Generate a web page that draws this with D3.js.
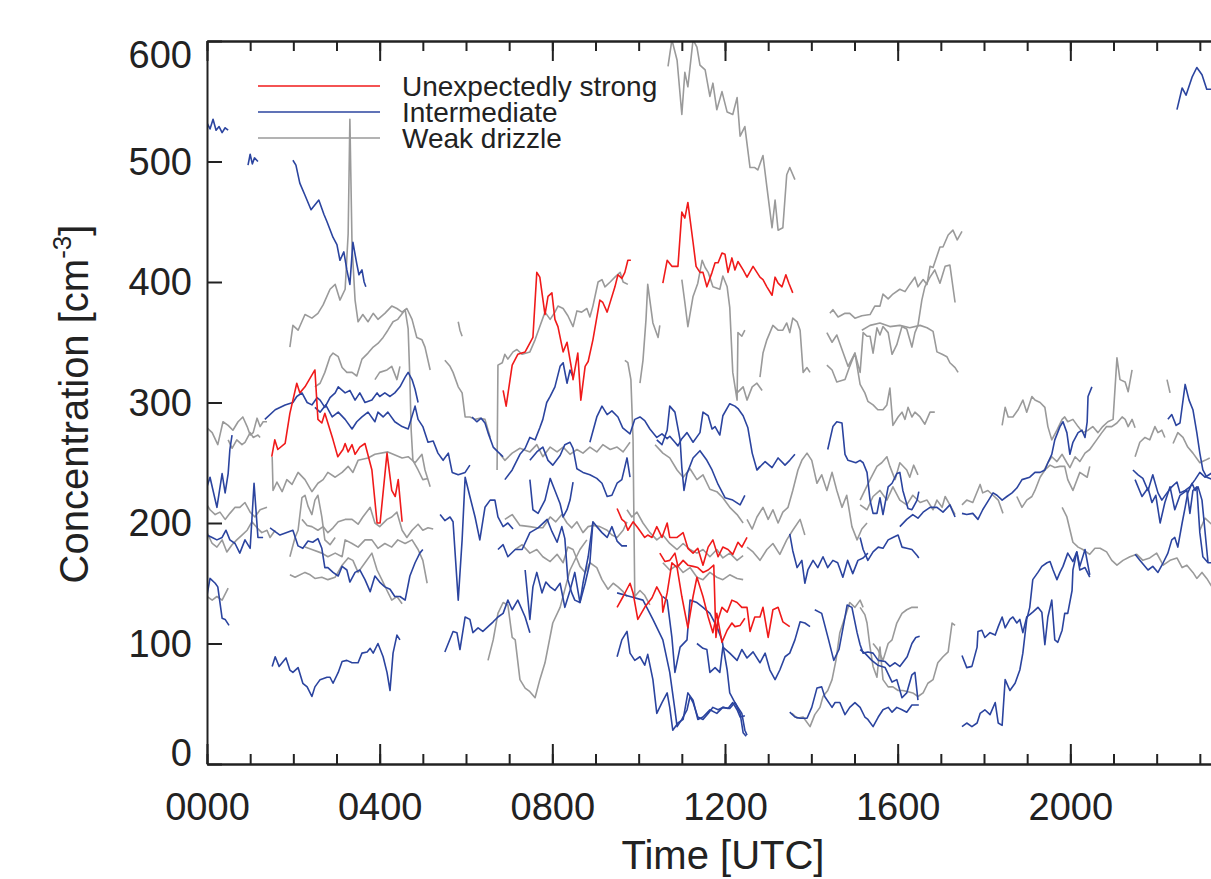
<!DOCTYPE html>
<html>
<head>
<meta charset="utf-8">
<script src="https://cdn.jsdelivr.net/npm/d3@7"></script>
<style>
  body { margin: 0; background: #fff; }
  svg { display: block; }
  text { font-family: "Liberation Sans", Arial, Helvetica, sans-serif; fill: #222; }
</style>
</head>
<body>
<div id="chart"></div>
<script>
// ---- data (hours UTC, concentration cm^-3) ----
var legendLabels = ["Unexpectedly strong", "Intermediate", "Weak drizzle"];
var xTickLabels = ["0000", "0400", "0800", "1200", "1600", "2000"];
var xMajorTicks = [0, 4, 8, 12, 16, 20, 24];
var yTickValues = [0, 100, 200, 300, 400, 500, 600];

var strongSegs = [
  {h: [1.50,1.57,1.64,1.81,1.92,2.08,2.15,2.27,2.50,2.57,2.66,2.73,2.92,3.03,3.15,3.20,3.27,3.36,3.43,3.54,3.66,3.82,3.94,4.01,4.17,4.28,4.36,4.43,4.52],
   v: [255,269,261,266,291,316,308,313,327,286,283,291,269,255,261,266,259,265,257,263,266,244,200,200,258,227,222,236,201]},
  {h: [6.86,6.93,7.07,7.20,7.37,7.55,7.64,7.71,7.83,7.90,7.99,8.06,8.13,8.25,8.34,8.46,8.48,8.59,8.66,8.76,8.83,8.94,9.10,9.17,9.27,9.45,9.52,9.61,9.68,9.75,9.82],
   v: [310,297,331,340,342,354,408,404,373,388,391,369,363,342,350,325,319,341,302,330,334,352,385,383,375,396,406,403,408,418,418]},
  {h: [10.56,10.66,10.77,10.91,11.00,11.07,11.14,11.26,11.33,11.42,11.49,11.58,11.70,11.77,11.84,11.93,12.00,12.07,12.16,12.23,12.30,12.42,12.51,12.65,12.81,12.88,12.97,13.09,13.16,13.23,13.32,13.41,13.48,13.57],
   v: [399,418,413,413,458,453,466,433,413,408,408,396,408,416,416,424,423,408,420,410,417,410,404,413,404,402,396,389,404,399,396,406,399,391]},
  {h: [9.50,9.61,9.68,9.75,9.87,9.98,10.14,10.21,10.31,10.42,10.54,10.66,10.72,10.89,11.03,11.14,11.26,11.37,11.49,11.61,11.72,11.84,11.95,12.07,12.18,12.30,12.39,12.51],
   v: [212,203,201,194,201,196,188,190,188,197,188,200,188,188,192,179,175,179,165,180,186,172,180,178,174,184,180,188]},
  {h: [10.49,10.61,10.72,10.84,10.91,11.03,11.14,11.26,11.37,11.49,11.61,11.74,11.79,11.84,11.93,12.05,12.16,12.28,12.39,12.51,12.58,12.69,12.81,12.88,13.00,13.11,13.23,13.34,13.50],
   v: [175,168,169,175,164,169,165,164,163,159,161,165,105,120,130,126,136,134,130,130,110,122,122,130,105,128,130,118,114]},
  {h: [9.50,9.64,9.80,9.87,9.98,10.14,10.31,10.42,10.54,10.56,10.66,10.77,10.89,11.00,11.14,11.26,11.35,11.49,11.61,11.72,11.81,11.93,12.05,12.16,12.23,12.35,12.46],
   v: [130,139,150,142,120,130,138,147,139,126,142,167,163,139,113,139,155,139,122,109,125,101,111,117,114,115,121]}
];

var interSegs = [
  {h: [0,0.07,0.14,0.21,0.28,0.35,0.42,0.49], v: [532,527,535,526,529,524,528,526]},
  {h: [0.95,1.0,1.05,1.1,1.18], v: [497,506,498,503,500]},
  {h: [1.99,2.06,2.15,2.27,2.41,2.59,2.71,2.78,2.92,3.01,3.08,3.17,3.24,3.31,3.38,3.47,3.52,3.59,3.64,3.68],
   v: [501,497,482,472,460,468,456,450,437,431,418,425,410,398,433,415,406,410,400,396]},
  {h: [22.47,22.59,22.68,22.82,22.93,23.05,23.16,23.3], v: [543,561,555,570,578,572,560,560]},
  {h: [0,0.07,0.14,0.23,0.35,0.42,0.49,0.53,0.58], v: [230,238,227,213,241,225,241,261,273]},
  {h: [0,0.12,0.23,0.35,0.44,0.53,0.65,0.76,0.88,1.0,1.09,1.18,1.3], v: [190,188,186,188,194,186,183,175,186,179,233,188,188]},
  {h: [0,0.07,0.19,0.25,0.35,0.42,0.51], v: [140,154,150,147,121,120,115]},
  {h: [1.51,1.58,1.67,1.83,1.92,1.99,2.11,2.22,2.32,2.43,2.50,2.62,2.78,2.85,2.92,3.04,3.13,3.24,3.36,3.50,3.59,3.71,3.78,3.85,3.96,4.08,4.17,4.24,4.31,4.40,4.47],
   v: [81,89,81,88,78,76,80,67,64,56,64,70,72,72,67,76,85,86,84,84,92,93,96,92,100,89,76,61,92,107,103]},
  {h: [1.34,1.58,1.81,1.99,2.08,2.20,2.32,2.43,2.55,2.62,2.73,2.85,2.97,3.04,3.20,3.31,3.43,3.54,3.66,3.82,3.94,4.00,4.12,4.24,4.35,4.47,4.59,4.66,4.75,4.82,4.89],
   v: [286,294,298,300,305,308,300,298,304,302,296,304,308,313,308,310,302,308,300,302,308,305,308,305,308,313,321,325,319,311,300]},
  {h: [2.50,2.62,2.75,2.90,3.04,3.20,3.36,3.47,3.59,3.73,3.89,3.96,4.08,4.19,4.35,4.52,4.66,4.82,4.89,5.00,5.12,5.24,5.35,5.47,5.59,5.68,5.82,5.98,6.09],
   v: [296,292,298,288,292,286,278,284,288,292,284,292,288,292,284,280,278,297,286,280,267,268,258,252,258,242,240,242,248]},
  {h: [1.46,1.69,1.99,2.11,2.22,2.34,2.45,2.57,2.66,2.73,2.80,2.92,3.04,3.13,3.24,3.31,3.43,3.54,3.66,3.78,3.89,4.00,4.12,4.24,4.35,4.47,4.59,4.70,4.82,4.93,5.00],
   v: [196,190,194,181,179,185,184,187,179,163,163,159,156,164,161,151,159,161,153,143,156,151,147,145,139,139,136,156,167,175,178]},
  {h: [5.40,5.51,5.63,5.70,5.82,5.91,5.98,6.09,6.21,6.32,6.44,6.56,6.67,6.74,6.86,6.97,7.09],
   v: [207,202,205,201,136,186,238,222,205,186,213,219,219,205,197,200,195]},
  {h: [5.51,5.70,5.79,5.86,5.98,6.09,6.16,6.28,6.39,6.51,6.63,6.74,6.86,6.97,7.07,7.20,7.37,7.48],
   v: [93,110,109,95,122,120,109,113,110,114,118,122,125,136,128,136,122,109]},
  {h: [6.14,6.25,6.35,6.44,6.51,6.63,6.74,6.86], v: [288,284,287,283,275,263,259,255]},
  {h: [6.90,7.07,7.25,7.37,7.48,7.60,7.71,7.78,7.87,7.95,8.06,8.18,8.25,8.34,8.41,8.48],
   v: [236,244,257,262,271,269,279,286,300,305,313,330,333,316,327,321]},
  {h: [7.48,7.64,7.78,7.90,8.01,8.18,8.29,8.41,8.48,8.57,8.71,8.87,9.03,9.15,9.27,9.38,9.50,9.61,9.73,9.80],
   v: [252,259,263,252,248,256,265,267,262,245,242,240,237,233,222,223,233,236,254,238]},
  {h: [7.48,7.55,7.67,7.83,7.95,8.06,8.18,8.25,8.34,8.41,8.48], v: [236,211,208,219,237,227,216,205,211,219,234]},
  {h: [6.74,6.86,6.97,7.14,7.30,7.48,7.67,7.88,7.99,8.11,8.22,8.29,8.36,8.45,8.52,8.64,8.76,8.87,8.94,9.03,9.15,9.27,9.38,9.50,9.61,9.73],
   v: [178,182,172,178,178,192,196,203,193,184,197,187,153,142,136,134,150,167,201,197,192,188,197,185,181,181]},
  {h: [7.37,7.48,7.55,7.64,7.76,7.85,7.95,8.06,8.18,8.29,8.41,8.52,8.64,8.71,8.83,8.94],
   v: [161,120,147,159,142,151,147,144,150,130,144,159,134,150,172,201]},
  {h: [8.87,9.03,9.15,9.27,9.38,9.52,9.63,9.80,9.91,10.03,10.14,10.26,10.42,10.54,10.66,10.72,10.84,10.91,11.00,11.12,11.26,11.42,11.49,11.61,11.70,11.77,11.88,11.95,12.11,12.23,12.30,12.42,12.53,12.63,12.74,12.81],
   v: [267,288,297,290,293,288,279,274,286,288,285,278,271,274,270,272,267,264,270,275,267,275,292,289,278,280,273,289,299,297,295,289,279,258,244,247]},
  {h: [10.42,10.54,10.66,10.72,10.84,10.96,11.00,11.05,11.12,11.26,11.42,11.58,11.70,11.84,12.00,12.18,12.35,12.46],
   v: [269,265,277,297,292,269,246,227,241,254,260,252,244,232,221,219,215,223]},
  {h: [9.50,9.80,10.10,10.33,10.56,10.72,10.84,10.89,11.00,11.12,11.19,11.26,11.37,11.49,11.61,11.72,11.84,11.95,12.07,12.18,12.28,12.35,12.46],
   v: [142,139,136,120,103,76,45,31,37,45,56,51,39,37,42,47,45,47,46,51,45,39,40]},
  {h: [9.50,9.61,9.73,9.80,9.91,10.03,10.14,10.21,10.33,10.42,10.54,10.66,10.72,10.79,10.91,11.03,11.14,11.26,11.37,11.49,11.65,11.81,11.95,12.11,12.23,12.30,12.39,12.46,12.51],
   v: [89,103,110,92,86,89,82,91,70,42,51,59,47,28,34,37,59,53,37,39,45,42,47,46,51,47,42,28,24]},
  {h: [11.35,11.49,11.58,11.65,11.77,11.88,11.95,12.11,12.28,12.39,12.51,12.65,12.81,12.93,13.04,13.16,13.27,13.39,13.50,13.62,13.74,13.85,13.97],
   v: [100,96,95,76,80,76,97,92,86,95,88,93,84,92,78,70,78,89,92,103,118,117,114]},
  {h: [10.56,10.66,10.77,10.84,10.96,11.12,11.19,11.35,11.49,11.65,11.81,11.93,12.05,12.11,12.23,12.35,12.42,12.49],
   v: [139,136,105,76,97,103,136,134,130,125,114,103,78,59,51,42,26,23]},
  {h: [12.74,12.93,13.09,13.23,13.39,13.50,13.62], v: [244,251,246,254,248,252,257]},
  {h: [13.50,13.57,13.67,13.78,13.85,13.92,14.04,14.15,14.27,14.38,14.50,14.61,14.73,14.84,14.96,15.08,15.20,15.31],
   v: [191,177,163,169,150,161,169,163,172,163,169,167,155,169,158,169,171,175]},
  {h: [15.13,15.20,15.31,15.43,15.55,15.66,15.78,15.89,16.01,16.10,16.21,16.33,16.45,16.49],
   v: [188,178,169,176,180,179,186,188,190,180,179,178,173,171]},
  {h: [14.38,14.43,14.50,14.59,14.71,14.78,14.85,14.94,15.03,15.13,15.20,15.29,15.36,15.43,15.52,15.59,15.66,15.78,15.87,15.98,16.05,16.12,16.24,16.33,16.45,16.49],
   v: [261,269,280,284,283,257,252,251,250,252,250,242,219,208,208,221,207,230,233,241,242,227,212,211,219,226]},
  {h: [16.05,16.21,16.35,16.47,16.59,16.75,16.91,17.05,17.21,17.33], v: [197,203,207,204,209,213,213,209,215,205]},
  {h: [14.08,14.24,14.40,14.52,14.64,14.76,14.83,14.94,15.06,15.13,15.20,15.31,15.43,15.55,15.71,15.82,15.94,16.05,16.22,16.33,16.42,16.51],
   v: [128,125,103,86,95,118,132,130,109,99,92,93,92,86,85,81,84,81,89,100,105,106]},
  {h: [13.50,13.62,13.74,13.90,14.01,14.13,14.24,14.31,14.48,14.55,14.66,14.78,14.89,15.01,15.13,15.24,15.31,15.43,15.55,15.66,15.78,15.87,15.98,16.10,16.21,16.33,16.49],
   v: [43,39,38,38,47,63,64,56,47,51,51,41,47,51,47,39,37,31,39,45,47,43,47,45,43,49,49]},
  {h: [15.13,15.24,15.40,15.54,15.71,15.87,15.98,16.10,16.21,16.33,16.40,16.47], v: [95,92,86,82,80,68,70,55,59,74,76,53]},
  {h: [17.49,17.60,17.74,17.86,17.97,18.09,18.21,18.30,18.42,18.53,18.65,18.76,18.88,19.06,19.18,19.30,19.41,19.48,19.57,19.64,19.76,19.83,19.92,19.99,20.06,20.18,20.27,20.34,20.39,20.41,20.50],
   v: [208,207,208,203,211,218,225,223,219,222,225,229,236,238,242,242,244,250,257,269,280,284,275,257,267,275,277,271,284,305,313]},
  {h: [17.49,17.60,17.72,17.84,17.86,17.95,18.02,18.14,18.26,18.33,18.42,18.49,18.60,18.67,18.76,18.83,18.90,18.99,19.06,19.13,19.25,19.34,19.41,19.48,19.57,19.64,19.71,19.81,19.87,19.94,20.04,20.06,20.15,20.22,20.34,20.45],
   v: [90,80,81,97,110,111,105,109,107,114,122,113,120,122,117,120,109,122,124,126,130,126,99,122,136,103,101,111,125,125,144,161,176,164,178,157]},
  {h: [17.49,17.60,17.72,17.84,17.91,18.02,18.14,18.26,18.33,18.42,18.49,18.60,18.72,18.83,18.90,18.99,19.06,19.13,19.25,19.34,19.46,19.53,19.60,19.69,19.76,19.83,19.94,20.06,20.15,20.22,20.34,20.45],
   v: [31,34,31,34,42,45,41,51,34,32,70,61,67,78,92,120,130,153,159,164,167,168,161,153,159,164,175,168,176,161,163,155]},
  {h: [21.50,21.61,21.80,21.91,22.03,22.15,22.26,22.35,22.42,22.49,22.59,22.66,22.72,22.82,22.89,22.96,23.05,23.19,23.30],
   v: [174,169,161,164,159,167,175,186,188,180,200,213,225,233,227,230,219,167,167]},
  {h: [21.50,21.66,21.80,21.89,21.98,22.08,22.19,22.31,22.42,22.54,22.70,22.77,22.84,22.93,23.00,23.07,23.19],
   v: [236,222,229,217,223,200,217,230,211,223,227,208,227,230,192,172,167]},
  {h: [21.45,21.57,21.68,21.80,21.91,22.03,22.12,22.24,22.35,22.47,22.54,22.66,22.77,22.89,23.00,23.12,23.30],
   v: [244,240,237,227,240,225,219,225,230,234,225,227,230,236,242,238,242]},
  {h: [22.26,22.35,22.45,22.54,22.66,22.75,22.84,22.93,23.00,23.07,23.16,23.30], v: [286,290,281,283,315,302,294,275,258,244,238,236]}
];

var weakSegs = [
  {h: [0,0.12,0.25,0.37,0.49,0.60,0.72,0.83,0.93,1.00,1.07,1.16,1.23,1.30,1.39], v: [279,275,265,284,281,277,284,288,280,273,275,287,280,284,284]},
  {h: [0.49,0.58,0.69,0.81,0.88,1.00,1.07,1.18,1.23], v: [269,262,269,265,267,275,271,273,271]},
  {h: [0,0.07,0.19,0.30,0.42,0.53,0.65,0.76,0.88,1.00,1.11,1.23,1.39], v: [215,211,207,209,203,208,213,213,217,209,205,211,213]},
  {h: [0,0.12,0.23,0.35,0.46,0.58,0.69,0.81,0.93,1.04,1.16,1.27,1.39,1.46,1.58], v: [192,183,180,186,176,182,186,190,194,201,196,192,194,188,194]},
  {h: [0,0.12,0.23,0.35,0.49], v: [139,136,139,136,146]},
  {h: [1.92,1.99,2.11,2.27,2.43,2.57,2.69,2.85,2.97,3.08,3.20,3.27,3.31,3.36,3.43,3.50,3.61,3.73,3.85,3.96,4.12,4.28,4.40,4.52,4.63,4.75,4.86,4.98,5.05,5.17],
   v: [346,364,360,373,370,374,381,394,398,385,394,440,535,430,385,367,373,367,374,369,374,380,378,375,378,369,354,352,346,327]},
  {h: [2.50,2.62,2.73,2.85,2.92,3.04,3.13,3.24,3.36,3.47,3.59,3.73,3.85,3.96,4.08,4.19,4.31,4.42,4.59,4.66,4.70,4.73,4.77,4.89,5.00,5.12],
   v: [313,316,325,338,341,338,329,325,325,322,336,341,346,349,354,360,367,369,377,361,319,277,252,244,236,237]},
  {h: [3.89,4.00,4.17,4.28,4.40,4.47], v: [319,325,327,330,319,330]},
  {h: [1.51,1.53,1.62,1.74,1.85,1.97,2.11,2.27,2.43,2.57,2.69,2.80,2.97,3.13,3.27,3.38,3.50,3.73,3.89,4.19,4.52,4.66,4.82,4.98,5.05,5.17],
   v: [255,227,234,226,236,232,242,236,226,233,236,242,238,242,247,242,252,254,257,259,254,255,250,257,244,230]},
  {h: [1.92,2.04,2.11,2.20,2.27,2.34,2.43,2.50,2.57,2.66,2.73,2.85,2.97], v: [172,188,194,221,223,214,207,219,223,205,186,182,188]},
  {h: [2.20,2.32,2.43,2.57,2.69,2.80,2.92,3.04,3.20,3.36,3.50,3.61,3.78,3.89,4.00,4.17,4.28,4.40,4.52,4.63,4.75,4.89,5.00,5.12,5.24],
   v: [203,198,197,194,197,192,196,201,203,203,199,205,213,200,197,203,205,209,194,188,194,199,194,196,195]},
  {h: [2.27,2.43,2.66,2.80,2.97,3.13,3.20,3.36,3.50,3.66,3.82,3.96,4.12,4.28,4.42,4.59,4.75,4.89,5.00,5.10],
   v: [180,178,175,172,175,172,186,183,180,186,186,179,183,180,186,183,186,178,169,150]},
  {h: [1.92,2.04,2.27,2.39,2.50,2.66,2.80,2.97,3.13,3.27,3.38,3.50,3.66,3.82,3.94,4.05,4.17,4.28,4.40,4.52],
   v: [157,155,159,157,154,155,153,155,165,171,169,159,167,175,161,153,144,136,139,133]},
  {h: [5.51,5.63,5.70,5.82,5.91,5.98,6.09,6.21,6.32,6.44,6.56], v: [335,330,325,313,308,288,288,286,287,286,271]},
  {h: [5.82,5.86,5.91], v: [367,360,355]},
  {h: [6.72,6.74,6.84,6.90,6.97,7.09,7.18,7.30,7.48,7.60,7.71,7.83,7.95,8.06,8.13,8.25,8.36,8.48,8.57,8.68,8.80,8.87,8.94,9.06,9.15,9.22,9.34,9.45,9.57,9.64,9.75],
   v: [244,331,333,340,336,342,344,340,342,352,363,375,369,375,380,378,372,363,376,375,378,371,380,400,402,396,400,404,408,400,398]},
  {h: [6.51,6.63,6.74,6.86,6.97,7.07,7.14,7.25,7.37,7.48,7.60,7.71,7.83,8.01,8.18,8.41,8.64,8.80],
   v: [86,103,125,134,132,105,103,70,63,60,55,70,84,117,130,161,178,186]},
  {h: [6.79,6.90,7.07,7.25,7.48,7.64,7.78,7.95,8.11,8.25,8.41,8.57,8.71,8.87,9.03,9.17,9.34,9.50,9.64,9.80],
   v: [257,252,258,262,259,265,255,263,259,263,257,261,258,263,259,265,261,263,259,267]},
  {h: [6.90,7.07,7.25,7.48,7.64,7.78,7.95,8.08,8.22,8.34,8.45,8.57,8.71,8.83,8.94,9.10,9.27,9.38,9.50,9.64,9.73],
   v: [203,207,198,197,196,196,205,201,207,200,196,201,192,197,198,197,194,190,188,194,201]},
  {h: [7.14,7.30,7.48,7.64,7.78,7.95,8.11,8.25,8.36,8.48,8.64,8.76,8.87,9.03,9.15,9.29,9.41,9.52,9.64,9.73],
   v: [178,182,175,178,172,168,174,167,180,178,164,159,167,163,153,145,150,147,143,139]},
  {h: [9.68,9.75,9.82,9.87,9.89,9.91,10.03,10.14,10.26], v: [335,333,319,269,203,139,144,140,132]},
  {h: [10.03,10.10,10.17,10.21,10.33,10.45,10.49], v: [316,335,369,398,366,354,364]},
  {h: [11.00,11.07,11.14,11.26,11.37,11.47,11.54,11.61,11.72,11.88,11.95,12.05,12.11,12.18,12.28,12.30,12.39,12.46],
   v: [402,383,363,388,399,418,412,408,396,394,405,396,379,325,302,358,355,360]},
  {h: [10.68,10.77,10.89,11.00,11.07,11.14,11.26,11.35,11.42,11.54,11.65,11.72,11.81,11.93,12.05,12.18,12.28,12.35,12.46,12.58,12.69,12.76,12.88,12.97,13.09,13.16,13.23,13.34,13.43,13.50,13.62],
   v: [579,601,584,539,574,562,601,595,580,576,554,565,543,558,541,539,553,521,529,495,495,493,505,479,445,468,443,445,489,495,485]},
  {h: [12.81,12.88,12.97,13.11,13.23,13.34,13.43,13.50,13.57,13.67,13.74,13.81,13.90,13.97], v: [321,341,352,364,360,360,366,358,370,367,360,325,329,325]},
  {h: [12.28,12.42,12.51,12.63,12.74,12.86], v: [308,313,302,313,316,310]},
  {h: [10.38,10.56,10.72,10.89,11.03,11.19,11.35,11.49,11.65,11.81,11.95,12.11,12.28,12.42], v: [265,258,254,244,238,245,236,240,228,226,221,213,207,200]},
  {h: [9.73,9.84,9.96,10.10,10.26,10.42,10.56,10.72,10.89,11.03,11.19,11.35,11.49,11.65,11.81,11.95,12.11,12.28,12.42],
   v: [211,205,209,200,192,186,190,183,178,183,178,175,178,172,178,171,175,169,173]},
  {h: [10.56,10.72,10.89,11.03,11.19,11.35,11.49,11.65,11.81,11.95,12.11,12.28,12.42], v: [167,161,165,159,163,155,153,159,155,153,157,154,153]},
  {h: [12.51,12.63,12.74,12.88,13.00,13.11,13.23,13.34,13.46,13.57,13.69,13.78,13.90,14.01,14.13,14.24,14.36,14.48,14.59,14.71,14.82,14.94,15.06,15.17,15.29],
   v: [203,195,205,213,203,211,200,209,213,227,244,252,258,252,233,240,227,242,227,213,223,197,186,195,200]},
  {h: [12.51,12.65,12.81,12.97,13.11,13.27,13.43,13.57,13.74,13.85], v: [180,176,169,178,183,174,186,194,203,190]},
  {h: [13.55,13.67,13.81,13.97,14.08,14.20,14.27,14.38,14.48,14.57,14.66,14.78,14.89,15.01,15.13,15.20], v: [42,38,39,31,41,47,56,61,70,86,109,122,134,130,136,130]},
  {h: [15.13,15.24,15.29,15.36,15.43,15.52,15.59,15.66,15.78,15.89,16.01,16.12,16.24,16.35,16.47,16.59,16.70,16.82,16.93,17.05,17.17,17.26,17.33],
   v: [130,124,117,97,81,72,97,70,64,64,61,61,60,59,56,59,67,70,84,89,93,117,115]},
  {h: [15.43,15.54,15.66,15.78,15.87,15.98,16.10,16.21,16.33,16.47], v: [100,95,86,100,103,117,125,128,130,130]},
  {h: [14.43,14.50,14.62,14.78,14.89,15.01,15.17,15.36,15.47,15.59,15.66,15.78,15.89,16.05,16.17,16.28,16.40,16.47,16.59,16.68,16.75,16.82,16.98,17.05,17.17,17.28,17.38,17.49],
   v: [374,377,371,374,374,370,372,373,380,380,390,386,390,394,392,398,404,396,402,398,413,412,429,429,439,443,435,442]},
  {h: [14.36,14.48,14.59,14.71,14.85,15.01,15.13,15.20,15.29,15.36,15.43,15.52,15.59,15.66,15.78,15.87,15.98,16.10,16.21,16.33,16.40,16.47,16.56,16.63,16.75,16.86,16.98,17.10,17.21,17.33],
   v: [358,350,356,344,330,341,325,358,355,355,341,362,356,363,358,340,348,363,361,346,358,364,385,396,404,410,399,413,414,383]},
  {h: [15.17,15.36,15.59,15.82,16.05,16.28,16.52,16.68,16.82,16.91,17.03,17.14,17.21,17.33,17.40], v: [360,364,366,363,364,362,364,362,359,342,340,338,333,329,325]},
  {h: [14.36,14.48,14.59,14.78,14.89,15.01,15.13,15.24,15.31,15.43,15.54,15.66,15.75,15.82,15.89,16.01,16.10,16.17,16.24,16.33,16.40,16.52,16.63,16.75,16.86],
   v: [331,327,317,319,330,341,315,308,301,298,294,294,298,312,281,288,292,286,296,288,292,288,282,292,292]},
  {h: [15.13,15.36,15.52,15.63,15.75,15.82,15.94,16.05,16.21,16.28,16.37,16.47], v: [219,236,247,250,255,247,236,250,244,238,248,240]},
  {h: [15.13,15.29,15.43,15.59,15.75,15.89,16.05,16.21,16.35,16.52,16.68,16.82,16.91,17.03,17.10,17.21,17.33], v: [215,211,222,227,219,230,219,215,223,217,219,211,219,213,222,215,207]},
  {h: [17.49,17.60,17.74,17.91,17.97,18.09,18.21,18.33,18.44], v: [215,219,217,232,225,227,223,219,208]},
  {h: [18.42,18.49,18.56,18.67,18.79,18.90,18.99,19.11,19.18,19.30,19.41,19.48,19.57,19.69,19.81,19.87,19.94,20.06,20.18,20.29,20.41,20.52,20.64,20.75,20.87,20.99,21.08,21.15,21.27,21.34,21.43],
   v: [281,296,288,288,294,302,292,305,302,300,296,280,269,277,286,288,284,286,280,275,277,280,275,280,284,286,337,319,317,309,327]},
  {h: [19.37,19.48,19.57,19.69,19.81,19.92,19.99,20.11,20.22,20.34,20.45,20.61,20.73,20.84,20.96,21.08,21.20,21.27,21.34,21.43,21.50],
   v: [242,250,255,251,257,250,246,255,251,258,261,269,275,280,280,283,288,286,280,286,279]},
  {h: [18.76,18.88,18.99,19.11,19.18,19.30,19.41,19.53,19.64,19.76,19.87,19.94,20.06,20.22,20.39,20.45], v: [222,213,219,222,227,238,244,248,246,247,247,236,227,242,238,247]},
  {h: [19.81,19.92,20.06,20.18,20.29,20.45,20.57,20.69,20.84,20.96,21.08,21.22,21.38,21.54,21.68,21.84,22.00,22.15,22.31,22.47,22.59,22.70,22.84,22.93,23.05,23.16,23.30],
   v: [213,205,184,180,178,174,179,179,176,169,165,169,172,174,169,171,175,165,169,171,163,165,159,154,159,154,146]},
  {h: [21.50,21.61,21.73,21.84,21.96,22.03,22.12,22.19], v: [255,267,271,269,280,275,277,271]},
  {h: [22.24,22.31], v: [319,308]},
  {h: [22.38,22.49,22.61,22.72,22.84,23.00,23.12,23.23], v: [266,275,271,263,258,250,252,254]},
  {h: [23.00,23.12,23.30], v: [194,204,198]}
];

var classColors = ["#f01a1a", "#2b449f", "#9a9a9a"];

// ---- layout ----
var svgWidth = 1211;
var svgHeight = 879;
var plot = {left: 207, top: 41, right: 1243, bottom: 764};

var svg = d3.select("#chart")
  .append("svg")
  .attr("width", svgWidth)
  .attr("height", svgHeight);

var xScale = d3.scaleLinear().domain([0, 24]).range([plot.left, plot.right]);
var yScale = d3.scaleLinear().domain([0, 600]).range([plot.bottom, plot.top]);

svg.append("clipPath").attr("id", "plotclip")
  .append("rect")
  .attr("x", plot.left).attr("y", plot.top)
  .attr("width", plot.right - plot.left).attr("height", plot.bottom - plot.top);

var line = d3.line()
  .x(d => xScale(d[0]))
  .y(d => yScale(d[1]));

var dataGroup = svg.append("g").attr("clip-path", "url(#plotclip)");

function drawSegs(segs, color) {
  dataGroup.append("g")
    .selectAll("path")
    .data(segs)
    .enter()
    .append("path")
    .attr("d", s => line(s.h.map((t, i) => [t, s.v[i]])))
    .attr("fill", "none")
    .attr("stroke", color)
    .attr("stroke-width", 1.6)
    .attr("stroke-linejoin", "round");
}

// gray first, then blue, red on top
drawSegs(weakSegs, classColors[2]);
drawSegs(interSegs, classColors[1]);
drawSegs(strongSegs, classColors[0]);

// ---- axes ----
var hours = d3.range(0, 25);

function styleAxis(g) {
  g.selectAll("path.domain").attr("stroke", "#222").attr("stroke-width", 2);
  g.selectAll(".tick line").attr("stroke", "#222").attr("stroke-width", 2);
}

// bottom minor + major
svg.append("g")
  .attr("transform", `translate(0, ${plot.bottom})`)
  .call(d3.axisBottom(xScale).tickValues(hours).tickSize(-10).tickSizeOuter(0).tickFormat(""))
  .call(styleAxis);

svg.append("g")
  .attr("transform", `translate(0, ${plot.bottom})`)
  .call(d3.axisBottom(xScale).tickValues(xMajorTicks).tickSize(-20).tickSizeOuter(0).tickPadding(29)
    .tickFormat((d, i) => xTickLabels[i] || ""))
  .call(styleAxis)
  .call(g => g.selectAll("text").attr("font-size", 38).attr("fill", "#222")
    .style("font-family", "'Liberation Sans', Arial, sans-serif"));

// top minor + major (no labels)
svg.append("g")
  .attr("transform", `translate(0, ${plot.top})`)
  .call(d3.axisTop(xScale).tickValues(hours).tickSize(-10).tickSizeOuter(0).tickFormat(""))
  .call(styleAxis);

svg.append("g")
  .attr("transform", `translate(0, ${plot.top})`)
  .call(d3.axisTop(xScale).tickValues(xMajorTicks).tickSize(-20).tickSizeOuter(0).tickFormat(""))
  .call(styleAxis);

// left axis
svg.append("g")
  .attr("transform", `translate(${plot.left}, 0)`)
  .call(d3.axisLeft(yScale).tickValues(yTickValues).tickSize(-15).tickSizeOuter(0).tickPadding(15))
  .call(styleAxis)
  .call(g => g.selectAll("text").attr("font-size", 38).attr("fill", "#222")
    .style("font-family", "'Liberation Sans', Arial, sans-serif")
    .attr("dy", d => d === 600 ? "0.69em" : (d === 0 ? "0.05em" : "0.34em")));

// ---- axis titles ----
svg.append("text")
  .attr("x", 723)
  .attr("y", 869)
  .attr("text-anchor", "middle")
  .attr("font-size", 40)
  .text("Time [UTC]");

var yTitle = svg.append("text")
  .attr("transform", "translate(88, 404) rotate(-90)")
  .attr("text-anchor", "middle")
  .attr("font-size", 40);
yTitle.append("tspan").text("Concentration [cm");
yTitle.append("tspan").attr("font-size", 26).attr("dy", -17).text("-3");
yTitle.append("tspan").attr("dy", 17).text("]");

// ---- legend ----
var legend = svg.append("g").selectAll("g")
  .data(legendLabels)
  .enter()
  .append("g")
  .attr("transform", (d, i) => `translate(0, ${86 + i * 26})`);

legend.append("line")
  .attr("x1", 258).attr("x2", 380)
  .attr("y1", 0).attr("y2", 0)
  .attr("stroke", (d, i) => classColors[i])
  .attr("stroke-width", 1.6);

legend.append("text")
  .attr("x", 402)
  .attr("y", 10)
  .attr("font-size", 28)
  .text(d => d);
</script>
</body>
</html>
